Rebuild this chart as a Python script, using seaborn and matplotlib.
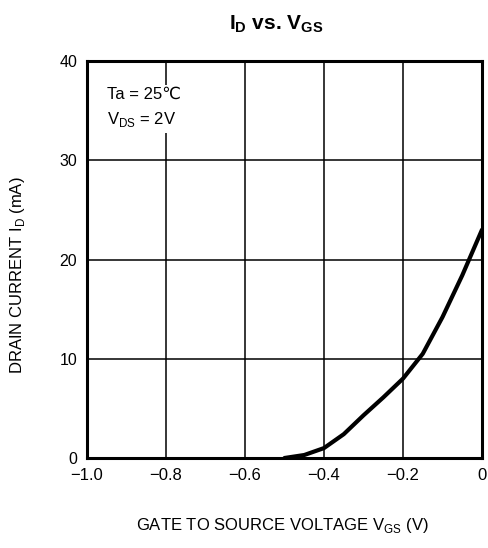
import numpy as np
import pandas as pd
import seaborn as sns
import matplotlib.pyplot as plt

# ID vs VGS egrisi (okunan degerler)
vgs = [-0.50, -0.45, -0.40, -0.35, -0.30, -0.25, -0.20, -0.15, -0.10, -0.05, 0.0]
i_d = [0.0, 0.3, 1.0, 2.4, 4.3, 6.1, 8.0, 10.5, 14.2, 18.4, 23.0]

x_ticks = [-1.0, -0.8, -0.6, -0.4, -0.2, 0.0]
x_labels = ["\u22121.0", "\u22120.8", "\u22120.6", "\u22120.4", "\u22120.2", "0"]
y_ticks = [0, 10, 20, 30, 40]

df = pd.DataFrame({"vgs": vgs, "id": i_d})

sns.set_style("white")
plt.rcParams['font.family'] = ['Liberation Sans', 'DejaVu Sans']
plt.rcParams['mathtext.fontset'] = 'custom'
plt.rcParams['mathtext.rm'] = 'Liberation Sans'
plt.rcParams['mathtext.bf'] = 'Liberation Sans:bold'
plt.rcParams['text.color'] = 'black'
plt.rcParams['axes.labelcolor'] = 'black'
plt.rcParams['xtick.color'] = 'black'
plt.rcParams['ytick.color'] = 'black'

fig = plt.figure(figsize=(4.89, 5.48), dpi=100)
ax = fig.add_axes([87/489, 1 - 458/548, 395/489, 397/548])

sns.lineplot(data=df, x="vgs", y="id", color="black", linewidth=3.0, ax=ax)

ax.set_xlim(-1.0, 0.0)
ax.set_ylim(0, 40)
ax.set_xticks(x_ticks)
ax.set_xticklabels(x_labels, fontsize=12)
ax.set_yticks(y_ticks)
ax.set_yticklabels([str(t) for t in y_ticks], fontsize=11.5)
ax.tick_params(length=0, pad=7)

ax.grid(True, color="black", linewidth=1.1)
ax.set_axisbelow(True)
for s in ax.spines.values():
    s.set_visible(True)
    s.set_color("black")
    s.set_linewidth(2.2)

ax.set_xlabel("GATE TO SOURCE VOLTAGE V$_{\\rm GS}$ (V)", fontsize=12)
ax.set_ylabel("DRAIN CURRENT I$_{\\rm D}$ (mA)", fontsize=12)
ax.xaxis.set_label_coords(0.494, -0.171)
ax.xaxis.label.set_va("center")
ax.yaxis.set_label_coords(-0.175, 0.46)
ax.yaxis.label.set_va("center")

ax.text(-0.949, 37.4, "Ta = 25\u2103\nV$_{\\rm DS}$ = 2V", fontsize=12,
        va="top", ha="left", linespacing=1.6, zorder=5,
        bbox=dict(facecolor="white", edgecolor="none", pad=3))

fig.text(276/489, 1 - 24/548, r"$\mathbf{I_D}$ vs. $\mathbf{V_{GS}}$",
         ha="center", va="center", fontsize=15, fontweight="bold")

fig.savefig("out.png", dpi=100)
